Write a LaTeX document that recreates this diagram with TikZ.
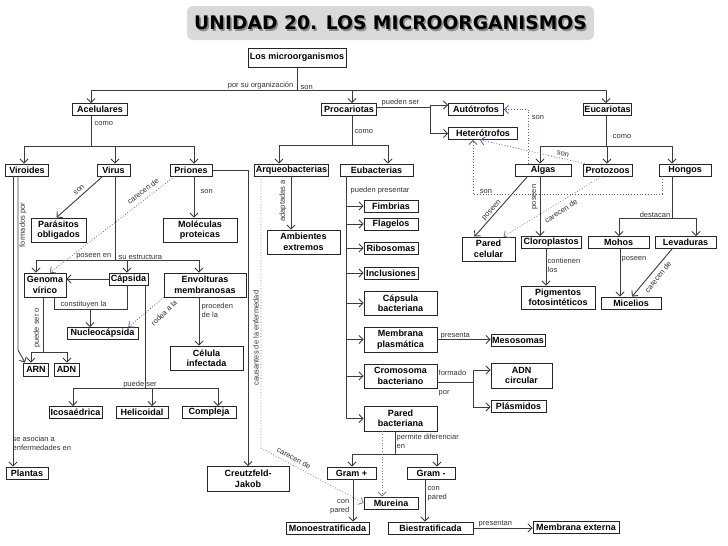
\documentclass[tikz,border=0pt]{standalone}
\usepackage{fontspec}
\setmainfont{Liberation Sans}
\newfontfamily\titlefont{DejaVu Sans}
\usetikzlibrary{arrows.meta}
\definecolor{lc}{RGB}{60,60,60}
\definecolor{bd}{RGB}{90,90,175}
\definecolor{tb}{RGB}{217,217,217}
\begin{document}
\begin{tikzpicture}[x=1pt,y=-1pt,
  box/.style={draw=black!85, line width=0.9pt, fill=white, font=\bfseries\fontsize{9}{10.5}\selectfont, inner xsep=1pt, inner ysep=0.5pt, align=center, minimum height=12pt},
  lbl/.style={font=\fontsize{7.5}{9.5}\selectfont, text=black!80, inner sep=0.5pt},
  con/.style={draw=lc, line width=0.9pt},
  arr/.style={draw=lc, line width=0.9pt, -{Straight Barb[length=4pt,width=8pt]}},
  bdot/.style={draw=bd, line width=0.8pt, dotted, -{Straight Barb[length=4pt,width=8pt]}},
  gdot/.style={draw=gray, line width=0.8pt, dotted, -{Straight Barb[length=4pt,width=8pt]}}]
\useasboundingbox (0,0) rectangle (728,546);
\fill[white] (0,0) rectangle (728,546);

% title
\fill[tb, rounded corners=6pt] (187,6) rectangle (594,40);
\node[font=\titlefont\bfseries\fontsize{18.7}{20}\selectfont, text=black!45] at (392,24.5) {UNIDAD 20. LOS MICROORGANISMOS};
\node[font=\titlefont\bfseries\fontsize{18.7}{20}\selectfont, text=black] (title) at (390.5,23) {UNIDAD 20. LOS MICROORGANISMOS};

% nodes
\node[box, minimum width=98pt, minimum height=19pt] (micro) at (297,57.5) {Los microorganismos};
\node[box, minimum width=55pt] (acel) at (100,109.5) {Acelulares};
\node[box, minimum width=55pt] (proc) at (349,109.5) {Procariotas};
\node[box, minimum width=55pt] (auto) at (476,109.5) {Autótrofos};
\node[box, minimum width=48pt] (euca) at (607.5,109.5) {Eucariotas};
\node[box, minimum width=69pt] (hete) at (483,133.5) {Heterótrofos};
\node[box, minimum width=43pt] (viro) at (27,170) {Viroides};
\node[box, minimum width=33pt] (virus) at (113.5,170) {Virus};
\node[box, minimum width=42pt] (prio) at (191,170) {Priones};
\node[box, minimum width=74pt] (arqu) at (291.5,170) {Arqueobacterias};
\node[box, minimum width=73pt] (euba) at (376.5,170) {Eubacterias};
\node[box, minimum width=56pt] (algas) at (543,170) {Algas};
\node[box, minimum width=49pt] (proto) at (607.5,170) {Protozoos};
\node[box, minimum width=52pt] (hong) at (685,170) {Hongos};

\node[box, minimum width=55pt, minimum height=24pt] (paras) at (58.5,230) {Parásitos\\obligados};
\node[box, minimum width=74pt, minimum height=24pt] (molec) at (200,230) {Moléculas\\proteicas};
\node[box, minimum width=73pt, minimum height=24pt] (ambi) at (303.5,242) {Ambientes\\extremos};
\node[box, minimum width=54pt] (fimb) at (391,206) {Fimbrias};
\node[box, minimum width=54pt] (flag) at (391,224) {Flagelos};
\node[box, minimum width=54pt] (ribo) at (391,248) {Ribosomas};
\node[box, minimum width=54pt] (incl) at (391,273) {Inclusiones};
\node[box, minimum width=73pt, minimum height=24pt] (capb) at (400.5,303) {Cápsula\\bacteriana};
\node[box, minimum width=73pt, minimum height=25pt] (memb) at (400.5,339.5) {Membrana\\plasmática};
\node[box, minimum width=73pt, minimum height=24pt] (crom) at (400.5,376) {Cromosoma\\bacteriano};
\node[box, minimum width=73pt, minimum height=25pt] (pared) at (400.5,418.5) {Pared\\bacteriana};
\node[box, minimum width=54pt] (meso) at (518,340.5) {Mesosomas};
\node[box, minimum width=61pt, minimum height=25pt] (adnc) at (521.5,375.5) {ADN\\circular};
\node[box, minimum width=55pt] (plasm) at (518.5,406.5) {Plásmidos};
\node[box, minimum width=49pt] (gramp) at (351.5,473) {Gram +};
\node[box, minimum width=48pt] (gramm) at (431,473) {Gram -};
\node[box, minimum width=54pt] (mure) at (391,503) {Mureina};
\node[box, minimum width=83pt] (mono) at (327.5,528) {Monoestratificada};
\node[box, minimum width=85pt] (bies) at (430.5,528) {Biestratificada};
\node[box, minimum width=86pt] (mext) at (576,527) {Membrana externa};
\node[box, minimum width=82pt, minimum height=25pt] (creu) at (248,479) {Creutzfeld-\\Jakob};
\node[box, minimum width=42pt, minimum height=24pt] (genoma) at (45,285) {Genoma\\vírico};
\node[box, minimum width=39pt] (capsida) at (128.5,279) {Cápsida};
\node[box, minimum width=82pt, minimum height=24pt] (envol) at (205,285) {Envolturas\\membranosas};
\node[box, minimum width=71pt] (nucleo) at (102.5,333.5) {Nucleocápsida};
\node[box, minimum width=73pt, minimum height=24pt] (celula) at (206.5,358) {Célula\\infectada};
\node[box, minimum width=25pt, minimum height=13pt] (arn) at (36,369.5) {ARN};
\node[box, minimum width=25pt, minimum height=13pt] (adn) at (66.5,369.5) {ADN};
\node[box, minimum width=53pt] (icosa) at (75.5,412.5) {Icosaédrica};
\node[box, minimum width=52pt] (helic) at (142,412.5) {Helicoidal};
\node[box, minimum width=54pt] (compl) at (209,412.5) {Compleja};
\node[box, minimum width=42pt] (plantas) at (27,473) {Plantas};
\node[box, minimum width=60pt] (clor) at (551,242.5) {Cloroplastos};
\node[box, minimum width=61pt] (mohos) at (618.5,242.5) {Mohos};
\node[box, minimum width=61pt] (levad) at (685.5,242.5) {Levaduras};
\node[box, minimum width=53pt, minimum height=24pt] (parcel) at (488.5,249) {Pared\\celular};
\node[box, minimum width=74pt, minimum height=23pt] (pigm) at (558,297.5) {Pigmentos\\fotosintéticos};
\node[box, minimum width=60pt] (micel) at (631,303) {Micelios};

% top level
\coordinate (t0) at (297,90);
\coordinate (tA) at (91,90);
\coordinate (tP) at (352,90);
\coordinate (tE) at (606,90);
\draw[con] (micro.south) -- (t0);
\draw[con] (tA) -- (tE);
\draw[arr] (tA) -- (tA |- acel.north);
\draw[arr] (tP) -- (tP |- proc.north);
\draw[arr] (tE) -- (tE |- euca.north);
\node[lbl, anchor=south east] at (294,90) {por su organización};
\node[lbl, anchor=south west] at (300,90) {son};

% Acelulares
\coordinate (aT) at (91,146);
\coordinate (aV) at (24,146);
\coordinate (aR) at (115,146);
\coordinate (aP) at (194,146);
\draw[con] (aT |- acel.south) -- (aT);
\draw[con] (aV) -- (aP);
\draw[arr] (aV) -- (aV |- viro.north);
\draw[arr] (aR) -- (aR |- virus.north);
\draw[arr] (aP) -- (aP |- prio.north);
\node[lbl, anchor=west] at (94,124) {como};

% Procariotas
\coordinate (pT) at (352,145);
\coordinate (pA) at (279,145);
\coordinate (pE) at (388,145);
\draw[con] (pT |- proc.south) -- (pT);
\draw[con] (pA) -- (pE);
\draw[arr] (pA) -- (pA |- arqu.north);
\draw[arr] (pE) -- (pE |- euba.north);
\node[lbl, anchor=west] at (354,132) {como};
\coordinate (ps) at (430,107);
\coordinate (ps1) at (430,105);
\coordinate (ps2) at (430,133.5);
\draw[con] (proc.east |- ps) -- (ps);
\draw[con] (ps1) -- (ps2);
\draw[arr] (ps1) -- (ps1 -| auto.west);
\draw[arr] (ps2) -- (ps2 -| hete.west);
\node[lbl, anchor=south west] at (381,107) {pueden ser};

% Eucariotas
\coordinate (eT) at (606,146);
\coordinate (eA) at (540,146);
\coordinate (eP) at (607,146);
\coordinate (eH) at (672,146);
\draw[con] (eT |- euca.south) -- (eT);
\draw[con] (eA) -- (eH);
\draw[arr] (eA) -- (eA |- algas.north);
\draw[arr] (eP) -- (eP |- proto.north);
\draw[arr] (eH) -- (eH |- hong.north);
\node[lbl] at (622,137) {como};

% Viroides
\coordinate (v1) at (13,300);
\coordinate (v2) at (18,350);
\draw[arr] (v1 |- viro.south) -- (v1 |- plantas.north);
\draw[arr] (v2 |- viro.south) -- (v2) -- ([xshift=2pt]arn.north west);
\node[lbl, rotate=90] at (23,225) {formados por};
\node[lbl, anchor=north west, align=left] at (12,435) {se asocian a\\enfermedades en};

% Virus
\draw[arr] ([xshift=6pt]virus.south west) -- ([xshift=-2pt]paras.north);
\node[lbl, rotate=40] at (79,190) {son};
\coordinate (vT) at (115,260);
\coordinate (vG) at (36,260);
\coordinate (vC) at (127,260);
\coordinate (vE) at (199,260);
\draw[con] (vT |- virus.south) -- (vT);
\draw[con] (vG) -- (vE);
\draw[arr] (vG) -- (vG |- genoma.north);
\draw[arr] (vC) -- (vC |- capsida.north);
\draw[arr] (vE) -- (vE |- envol.north);
\node[lbl, anchor=south east] at (112,260) {poseen en};
\node[lbl, anchor=south west] at (118,260) {su estructura};

% Priones
\coordinate (pr) at (248,170);
\draw[arr] (prio.east) -- (pr) -- (pr |- creu.north);
\node[lbl, rotate=90] at (256,338) {causantes de la enfermedad};
\coordinate (pr2) at (194,200);
\draw[arr] (pr2 |- prio.south) -- (pr2 |- molec.north);
\node[lbl, anchor=west] at (200,192) {son};
\draw[bdot] ([xshift=5pt]prio.south west) -- ([xshift=5pt]genoma.north);
\node[lbl, rotate=37] at (143,191) {carecen de};

% Capsida / Genoma
\draw[arr] (capsida.west) -- (capsida.west -| genoma.east);
\coordinate (c1) at (54,309);
\coordinate (c2) at (127,309);
\coordinate (c3) at (90,309);
\draw[con] (c1 |- genoma.south) -- (c1) -- (c2) -- (c2 |- capsida.south);
\draw[arr] (c3) -- (c3 |- nucleo.north);
\node[lbl, anchor=south west] at (60,309) {constituyen la};

\coordinate (k0) at (145,388);
\coordinate (k1) at (73,388);
\coordinate (k2) at (152,388);
\coordinate (k3) at (218,388);
\draw[con] (k0 |- capsida.south) -- (k0);
\draw[con] (k1) -- (k3);
\draw[arr] (k1) -- (k1 |- icosa.north);
\draw[arr] (k2) -- (k2 |- helic.north);
\draw[arr] (k3) -- (k3 |- compl.north);
\node[lbl, anchor=south] at (140,389) {puede ser};

\coordinate (g0) at (43,352);
\coordinate (g1) at (31,352);
\coordinate (g2) at (67,352);
\draw[con] (g0 |- genoma.south) -- (g0);
\draw[con] (g1) -- (g2);
\draw[arr] (g1) -- (g1 |- arn.north);
\draw[arr] (g2) -- (g2 |- adn.north);
\node[lbl, rotate=90] at (37,328) {puede ser o};

% Envolturas
\coordinate (en) at (199,320);
\draw[arr] (en |- envol.south) -- (en |- celula.north);
\node[lbl, anchor=north west, align=left] at (201,302) {proceden\\de la};
\draw[bdot] (envol.south west) -- ([xshift=-10pt]nucleo.north east);
\node[lbl, rotate=45] at (164,313) {rodea a la};

% Eubacterias
\coordinate (b0) at (346,300);
\draw[con] (b0 |- euba.south) -- (b0 |- pared.west);
\foreach \n in {fimb,flag,ribo,incl,capb,memb,crom,pared}
  \draw[arr] (b0 |- \n.west) -- (\n.west);
\node[lbl, anchor=west] at (350,191) {pueden presentar};

\draw[arr] (memb.east) -- (memb.east -| meso.west);
\node[lbl, anchor=south west] at (440,339.5) {presenta};

\coordinate (f0) at (473,382);
\coordinate (f1) at (473,370);
\coordinate (f2) at (473,407);
\draw[con] (crom.east |- f0) -- (f0);
\draw[con] (f1) -- (f2);
\draw[arr] (f1) -- (f1 -| adnc.west);
\draw[arr] (f2) -- (f2 -| plasm.west);
\node[lbl, anchor=west] at (438,373) {formado};
\node[lbl, anchor=west] at (438,393) {por};

% Pared bacteriana
\coordinate (w0) at (395,454);
\coordinate (w1) at (352,454);
\coordinate (w2) at (437,454);
\draw[con] (w0 |- pared.south) -- (w0);
\draw[con] (w1) -- (w2);
\draw[arr] (w1) -- (w1 |- gramp.north);
\draw[arr] (w2) -- (w2 |- gramm.north);
\node[lbl, anchor=north west, align=left] at (396,433) {permite diferenciar\\en};
\coordinate (w3) at (382,470);
\draw[gdot] (w3 |- pared.south) -- (w3 |- mure.north);

\coordinate (m1) at (353,500);
\draw[arr] (m1 |- gramp.south) -- (m1 |- mono.north);
\node[lbl, anchor=east, align=right] at (350,507) {con\\pared};
\coordinate (m2) at (425,500);
\draw[arr] (m2 |- gramm.south) -- (m2 |- bies.north);
\node[lbl, anchor=west, align=left] at (427,494) {con\\pared};
\draw[arr] (bies.east) -- (bies.east -| mext.west);
\node[lbl, anchor=south west] at (478,527.5) {presentan};

% Arqueobacterias
\coordinate (q0) at (291,200);
\draw[arr] (q0 |- arqu.south) -- (q0 |- ambi.north);
\node[lbl, rotate=90] at (283,201) {adaptadas a};
\coordinate (q1) at (261,448);
\draw[gdot] (q1 |- arqu.south) -- (q1) -- (mure.west);
\node[lbl, rotate=-28] at (294,458) {carecen de};

% Algas
\coordinate (s0) at (528,109.5);
\draw[bdot] (s0 |- algas.north) -- (s0) -- (auto.east);
\node[lbl] at (538,118) {son};
\draw[arr] ([xshift=13pt]algas.south west) -- ([xshift=-14pt]parcel.north);
\node[lbl, rotate=48] at (492,211) {poseen};
\coordinate (s1) at (540,200);
\draw[arr] (s1 |- algas.south) -- (s1 |- clor.north);
\node[lbl, rotate=90] at (535,197) {poseen};

% Protozoos
\draw[bdot] ([xshift=2pt]proto.north west) -- ([xshift=-3pt]hete.south);
\node[lbl, rotate=-12] at (563,154) {son};
\draw[gdot] ([xshift=19pt]proto.south west) -- ([xshift=-12pt]parcel.north east);
\node[lbl, rotate=33] at (561,211) {carecen de};

% Hongos
\coordinate (h0) at (672,218);
\coordinate (h1) at (619,218);
\coordinate (h2) at (696,218);
\draw[con] (h0 |- hong.south) -- (h0);
\draw[con] (h1) -- (h2);
\draw[arr] (h1) -- (h1 |- mohos.north);
\draw[arr] (h2) -- (h2 |- levad.north);
\node[lbl, anchor=south] at (655,218) {destacan};
\coordinate (h3) at (662,194);
\coordinate (h4) at (473,194);
\draw[bdot] (h3 |- hong.south) -- (h3) -- (h4) -- (h4 |- hete.south);
\node[lbl, anchor=south] at (486,194) {son};

% Cloroplastos, Mohos, Levaduras
\coordinate (l0) at (546,270);
\draw[arr] (l0 |- clor.south) -- (l0 |- pigm.north);
\node[lbl, anchor=north west, align=left] at (547,257) {contienen\\los};
\coordinate (l1) at (620,270);
\draw[arr] (l1 |- mohos.south) -- (l1 |- micel.north);
\node[lbl, anchor=west] at (621,259) {poseen};
\draw[arr] ([xshift=-13.5pt]levad.south) -- ([xshift=1pt]micel.north);
\node[lbl, rotate=51] at (658,277) {carecen de};
\end{tikzpicture}
\end{document}
